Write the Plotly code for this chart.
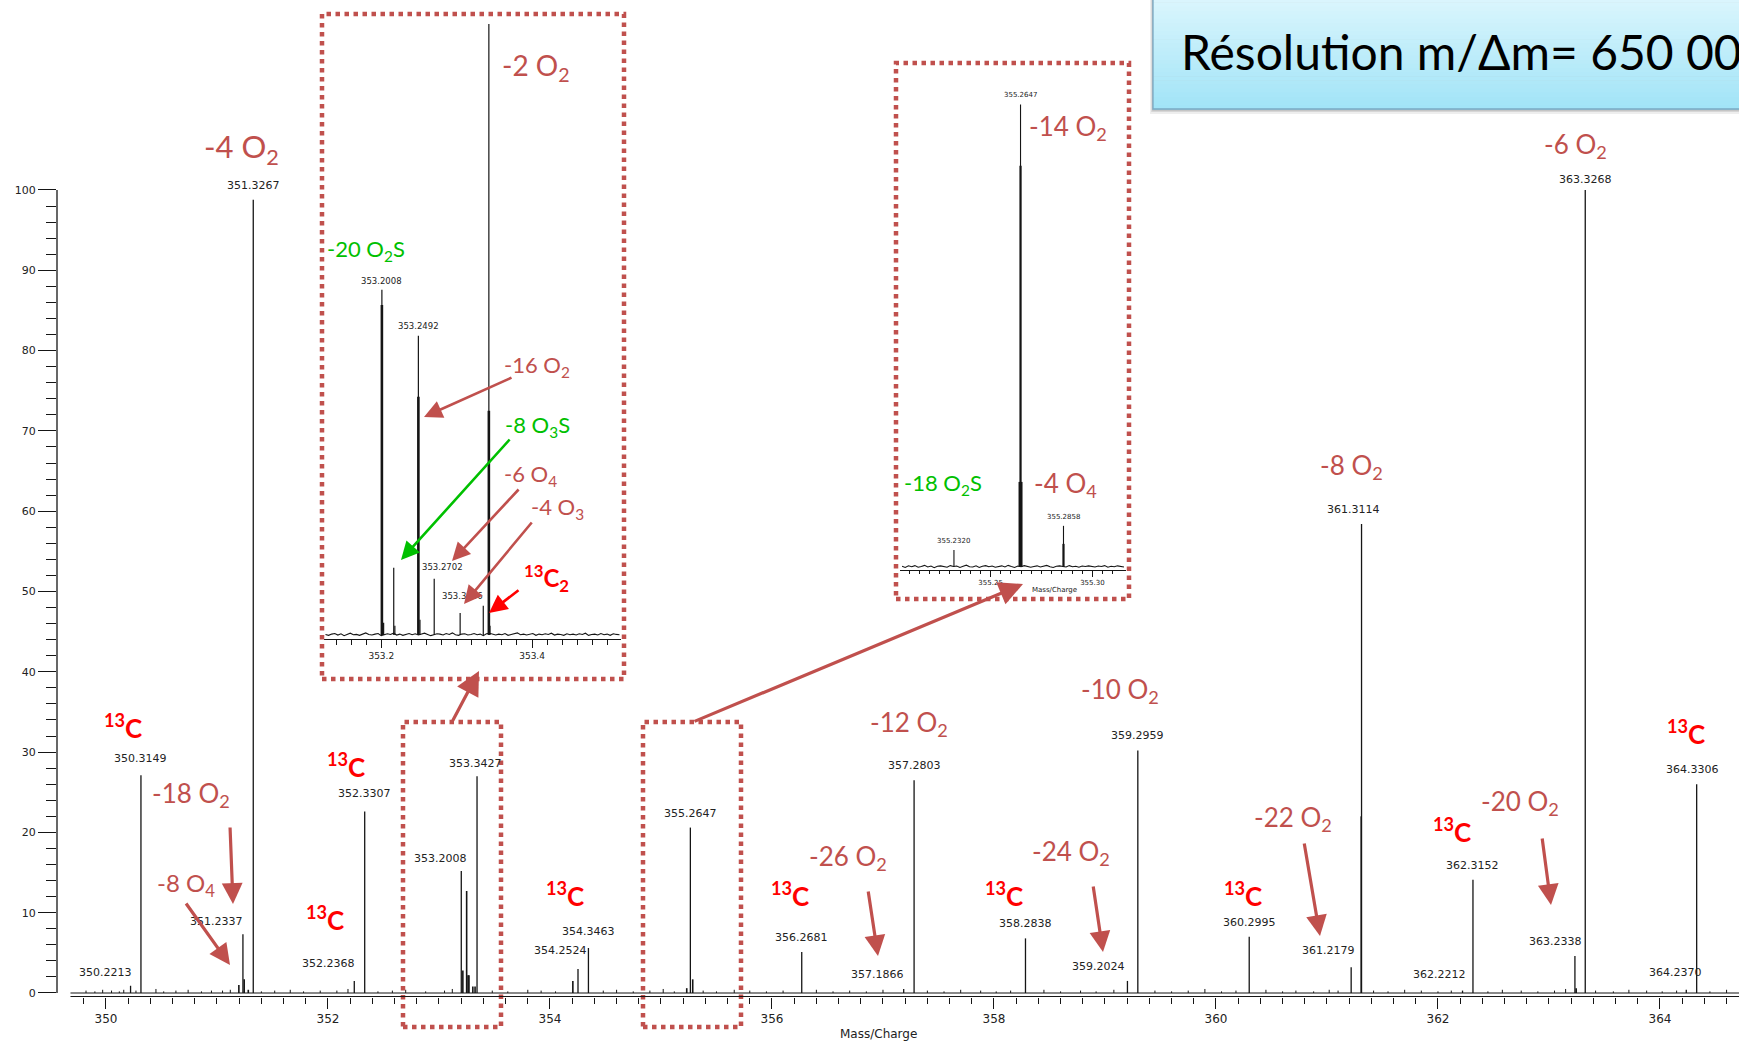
import numpy as np
import plotly.graph_objects as go

# ---------------- data ----------------
# main spectrum, labelled centroids (m/z, relative abundance)
peak_mz = [350.2213, 350.3149, 351.2337, 351.3267, 352.2368, 352.3307, 353.2008, 353.3427,
           354.2524, 354.3463, 355.2647, 356.2681, 357.1866, 357.2803, 358.2838, 359.2024,
           359.2959, 360.2995, 361.2179, 361.3114, 362.2212, 362.3152, 363.2338, 363.3268,
           364.2370, 364.3306]
peak_int = [0.9, 27.1, 7.3, 98.8, 1.5, 22.6, 15.2, 27.0,
            3.0, 5.6, 20.6, 5.1, 0.5, 26.5, 6.8, 1.5,
            30.2, 7.0, 3.2, 58.4, 0.3, 14.1, 4.6, 100.0,
            0.4, 26.0]

# unlabelled centroids
minor_mz = [351.197, 351.245, 351.282, 353.215, 353.2492, 353.262, 353.270, 353.305,
            353.325, 354.206, 355.232, 355.2858, 361.3085, 363.245]
minor_int = [1.0, 1.7, 0.4, 2.8, 12.7, 2.2, 2.2, 0.8,
             0.8, 1.5, 0.6, 1.7, 22.0, 0.6]

# baseline noise centroids
noise_mz = [349.82, 349.90, 349.97, 350.05, 350.12, 350.16, 350.27, 350.45, 350.52, 350.63,
            350.74, 350.86, 350.95, 351.05, 351.12, 351.40, 351.52, 351.66, 351.78, 351.93,
            352.08, 352.18, 352.45, 352.58, 352.70, 352.88, 353.05, 353.12, 353.48, 353.62,
            353.80, 353.92, 354.05, 354.48, 354.60, 354.75, 354.90, 355.02, 355.12, 355.38,
            355.50, 355.66, 355.80, 355.95, 356.10, 356.40, 356.55, 356.70, 356.85, 357.00,
            357.40, 357.55, 357.70, 357.88, 358.02, 358.15, 358.45, 358.60, 358.78, 358.92,
            359.08, 359.45, 359.60, 359.75, 359.90, 360.05, 360.18, 360.45, 360.60, 360.72,
            360.88, 361.02, 361.10, 361.42, 361.55, 361.70, 361.85, 362.00, 362.12, 362.45,
            362.58, 362.75, 362.90, 363.05, 363.15, 363.42, 363.58, 363.72, 363.88, 364.02,
            364.15, 364.45, 364.60]
noise_int = [0.3, 0.2, 0.4, 0.3, 0.2, 0.4, 0.3, 0.5, 0.2, 0.3,
             0.4, 0.2, 0.3, 0.3, 0.4, 0.2, 0.3, 0.4, 0.2, 0.3,
             0.3, 0.5, 0.2, 0.3, 0.4, 0.2, 0.3, 0.5, 0.3, 0.2,
             0.4, 0.3, 0.2, 0.3, 0.4, 0.2, 0.3, 0.5, 0.2, 0.3,
             0.2, 0.4, 0.3, 0.2, 0.3, 0.4, 0.2, 0.3, 0.2, 0.4,
             0.3, 0.2, 0.4, 0.3, 0.2, 0.3, 0.4, 0.2, 0.3, 0.2,
             0.4, 0.3, 0.2, 0.3, 0.5, 0.2, 0.3, 0.4, 0.2, 0.3,
             0.2, 0.4, 0.3, 0.3, 0.2, 0.4, 0.3, 0.2, 0.3, 0.2,
             0.4, 0.3, 0.2, 0.3, 0.5, 0.3, 0.2, 0.4, 0.3, 0.2,
             0.3, 0.2, 0.4]

# zoom around m/z 353.2 - 353.5 (normalised to 353.3427)
ins1_mz = [353.2008, 353.2031, 353.2165, 353.2180, 353.2492, 353.2513, 353.2702,
           353.3046, 353.3353, 353.3427, 353.3442]
ins1_int = [56.5, 2.0, 11.0, 1.5, 49.0, 2.5, 9.2, 3.6, 4.8, 100.0, 1.5]
ins1_core_mz = [353.2008, 353.2492, 353.3427]
ins1_core_int = [54.0, 39.0, 36.7]
ins1_labels = [353.2008, 353.2492, 353.2702, 353.3046]
ins1_noise = [0.10, -0.05, 0.15, 0.25, 0.00, 0.20, -0.10, 0.15, 0.30, 0.05, 0.10, -0.05,
              0.20, 0.35, 0.10, 0.00, 0.15, 0.25, -0.10, 0.05, 0.20, 0.10, 0.30, 0.00,
              0.15, -0.05, 0.10, 0.25, 0.05, 0.20, 0.00, 0.15, 0.30, 0.10, -0.10, 0.05,
              0.20, 0.15, 0.00, 0.25, 0.10, 0.35, 0.05, -0.05, 0.15, 0.20, 0.00, 0.10,
              0.25, 0.05, 0.15, -0.10, 0.20, 0.30, 0.10, 0.00, 0.15, 0.05, 0.25, -0.05,
              0.10, 0.20, 0.35, 0.05, 0.15, 0.00, 0.10, 0.25, -0.05, 0.15, 0.05, 0.20,
              0.10, 0.30, 0.00, 0.15, 0.10, -0.05, 0.20, 0.05, 0.15, 0.00, 0.20, 0.10,
              0.30, -0.05, 0.10, 0.15, 0.00, 0.25, 0.05, 0.15, -0.05, 0.20, 0.10, 0.05]

# zoom around m/z 355.26 (normalised to 355.2647)
ins2_mz = [355.2320, 355.2647, 355.2858]
ins2_int = [3.7, 100.0, 8.9]
ins2_core_mz = [355.2647, 355.2858]
ins2_core_int = [86.8, 5.0]
ins2_base_mz = [355.2647]
ins2_base_int = [18.4]
ins2_noise = [0.15, -0.10, 0.25, 0.05, 0.30, -0.05, 0.10, 0.35, 0.00, 0.20, -0.15, 0.15,
              0.25, 0.05, -0.05, 0.30, 0.10, 0.20, -0.10, 0.15, 0.40, 0.05, 0.00, 0.25,
              -0.10, 0.15, 0.30, 0.05, 0.20, -0.05, 0.10, 0.25, 0.00, 0.35, 0.10, -0.10,
              0.20, 0.05, 0.30, 0.15, -0.05, 0.10, 0.25, 0.00, 0.20, 0.35, 0.05, -0.10,
              0.15, 0.25, 0.10, 0.00, 0.30, 0.05, 0.15, -0.05, 0.20, 0.10, 0.25, 0.05,
              0.00, 0.20, 0.10, 0.30, -0.05, 0.15, 0.05, 0.25, 0.10, 0.00]

# ---------------- geometry helpers ----------------
W, H = 1739, 1041
ML, MR, MT, MB = 57, 0, 20, 44
PW, PH = W - ML - MR, H - MT - MB

def P(x, y):
    """pixel position on the page -> paper coordinates"""
    return (x - ML) / PW, (H - MB - y) / PH

def sticks(mz, inten):
    xs, ys = [], []
    for m, v in zip(mz, inten):
        xs += [m, m, None]
        ys += [0, v, None]
    return xs, ys

ROSE = '#c0504d'
GREEN = '#00c000'
RED = '#ff0000'
INK = '#151515'
LABEL_FONT = 'Lato'
TICK_FONT = 'DejaVu Sans'

fig = go.Figure()

# ---------------- main spectrum ----------------
for mz, it, w in [(noise_mz, noise_int, 1.0), (minor_mz, minor_int, 1.6), (peak_mz, peak_int, 1.3)]:
    xs, ys = sticks(mz, it)
    fig.add_trace(go.Scatter(x=xs, y=ys, mode='lines', line=dict(color=INK, width=w),
                             hoverinfo='skip', showlegend=False, xaxis='x', yaxis='y'))

# ---------------- inset 1 ----------------
xs = list(np.linspace(353.126, 353.516, len(ins1_noise)))
fig.add_trace(go.Scatter(x=xs, y=ins1_noise, mode='lines', line=dict(color=INK, width=1.1),
                         hoverinfo='skip', showlegend=False, xaxis='x2', yaxis='y2'))
xs, ys = sticks(ins1_mz, ins1_int)
fig.add_trace(go.Scatter(x=xs, y=ys, mode='lines', line=dict(color=INK, width=1.2),
                         hoverinfo='skip', showlegend=False, xaxis='x2', yaxis='y2'))
xs, ys = sticks(ins1_core_mz, ins1_core_int)
fig.add_trace(go.Scatter(x=xs, y=ys, mode='lines', line=dict(color=INK, width=2.6),
                         hoverinfo='skip', showlegend=False, xaxis='x2', yaxis='y2'))

# ---------------- inset 2 ----------------
xs = list(np.linspace(355.2065, 355.3155, len(ins2_noise)))
fig.add_trace(go.Scatter(x=xs, y=ins2_noise, mode='lines', line=dict(color=INK, width=1.1),
                         hoverinfo='skip', showlegend=False, xaxis='x3', yaxis='y3'))
for mz, it, w in [(ins2_mz, ins2_int, 1.1), (ins2_core_mz, ins2_core_int, 2.2),
                  (ins2_base_mz, ins2_base_int, 4.0)]:
    xs, ys = sticks(mz, it)
    fig.add_trace(go.Scatter(x=xs, y=ys, mode='lines', line=dict(color=INK, width=w),
                             hoverinfo='skip', showlegend=False, xaxis='x3', yaxis='y3'))

annotations = []
shapes = []

# peak labels on the main spectrum: horizontal / vertical nudges in px
label_dx = {350.2213: -25, 351.2337: -26, 352.2368: -26, 353.2008: -21, 353.3427: -2,
            354.2524: -18, 357.1866: -26, 359.2024: -29, 361.2179: -23, 362.2212: -23,
            363.2338: -19, 364.2370: -11, 364.3306: -4, 361.3114: -8}
label_dy = {350.2213: 5, 350.3149: 8, 351.2337: 4, 352.2368: 9, 352.3307: 10, 353.2008: 4,
            353.3427: 4, 354.2524: 10, 354.3463: 8, 363.3268: 2, 364.2370: 9, 361.2179: 8,
            362.2212: 8}
for m, v in zip(peak_mz, peak_int):
    annotations.append(dict(x=m, y=v, xref='x', yref='y', text=f'{m:.4f}', showarrow=False,
                            xanchor='center', yanchor='bottom', xshift=label_dx.get(m, 0),
                            yshift=label_dy.get(m, 6),
                            font=dict(family=TICK_FONT, size=11, color='#222')))

# peak labels inside the insets
ins1_val = dict(zip(ins1_mz, ins1_int))
ins1_dx = {353.2008: 0, 353.2492: 0, 353.2702: 8, 353.3046: 2}
ins1_dy = {353.2008: 2, 353.2492: 3, 353.2702: 5, 353.3046: 10}
for m in ins1_labels:
    annotations.append(dict(x=m, y=ins1_val[m], xref='x2', yref='y2', text=f'{m:.4f}',
                            showarrow=False, xanchor='center', yanchor='bottom',
                            xshift=ins1_dx[m], yshift=ins1_dy[m],
                            font=dict(family=TICK_FONT, size=8.5, color='#222')))
ins2_dy = {355.2320: 3, 355.2647: 4, 355.2858: 3}
for m, v in zip(ins2_mz, ins2_int):
    annotations.append(dict(x=m, y=v, xref='x3', yref='y3', text=f'{m:.4f}', showarrow=False,
                            xanchor='center', yanchor='bottom', yshift=ins2_dy[m],
                            font=dict(family=TICK_FONT, size=7, color='#222')))


def note(text, x, y, size, color, bold=False, family=LABEL_FONT):
    px_, py_ = P(x, y)
    annotations.append(dict(x=px_, y=py_, xref='paper', yref='paper', text=text,
                            showarrow=False, xanchor='center', yanchor='middle',
                            font=dict(family=family, size=size, color=color,
                                      weight='bold' if bold else 'normal')))


def arrow(tail, head, color, width=3.2, size=1.3):
    hx, hy = P(*head)
    annotations.append(dict(x=hx, y=hy, xref='paper', yref='paper', text='',
                            ax=tail[0] - head[0], ay=tail[1] - head[1],
                            axref='pixel', ayref='pixel', showarrow=True, arrowhead=2,
                            arrowsize=size, arrowwidth=width, arrowcolor=color, standoff=0))


O2 = ' O<sub>2</sub>'
C13 = '<sup>13</sup>C'

# composition labels, main spectrum
note('-4' + O2, 241, 148, 31, ROSE)
note('-6' + O2, 1575, 145, 26, ROSE)
note('-8' + O2, 1351, 466, 26, ROSE)
note('-10' + O2, 1120, 690, 26, ROSE)
note('-12' + O2, 909, 723, 26, ROSE)
note('-18' + O2, 191, 794, 26, ROSE)
note('-8 O<sub>4</sub>', 186, 884, 24, ROSE)
note('-26' + O2, 848, 857, 26, ROSE)
note('-24' + O2, 1071, 852, 26, ROSE)
note('-22' + O2, 1293, 818, 26, ROSE)
note('-20' + O2, 1520, 802, 26, ROSE)
for cx, cy in [(123, 726), (346, 765), (325, 918), (565, 894), (790, 894),
               (1004, 894), (1243, 894), (1452, 830), (1686, 732)]:
    note(C13, cx, cy, 26, RED, bold=True)

arrow((230, 826), (233, 904), ROSE)
arrow((185, 902), (230, 965), ROSE)
arrow((868, 890), (878, 956), ROSE)
arrow((1093, 885), (1103, 952), ROSE)
arrow((1304, 842), (1320, 936), ROSE)
arrow((1542, 837), (1551, 905), ROSE)

# inset 1 notes
note('-2' + O2, 536, 67, 28, ROSE)
note('-20 O<sub>2</sub>S', 366, 250, 22, GREEN)
note('-16' + O2, 537, 366, 22, ROSE)
note('-8 O<sub>3</sub>S', 537, 426, 22, GREEN)
note('-6 O<sub>4</sub>', 530, 475, 22, ROSE)
note('-4 O<sub>3</sub>', 557, 508, 22, ROSE)
note(C13 + '<sub>2</sub>', 546, 578, 24, RED, bold=True)
arrow((513, 377), (424, 417), ROSE, 2.6, 1.4)
arrow((511, 438), (401, 560), GREEN, 2.6, 1.4)
arrow((520, 488), (452, 561), ROSE, 2.6, 1.4)
arrow((533, 521), (464, 604), ROSE, 2.6, 1.4)
arrow((520, 589), (489, 613), RED, 2.6, 1.4)

# inset 2 notes
note('-14' + O2, 1068, 128, 26, ROSE)
note('-18 O<sub>2</sub>S', 943, 484, 22, GREEN)
note('-4 O<sub>4</sub>', 1065, 484, 26, ROSE)
note('Mass/Charge', 1054, 590, 7, '#222', family=TICK_FONT)

# axis title
note('Mass/Charge', 878, 1034, 12, '#222', family=TICK_FONT)

# links from the zoomed windows to their insets
arrow((452, 722), (479, 671), ROSE, 3.2, 1.5)
arrow((693, 722), (1023, 584), ROSE, 3.2, 1.5)


def dotted_box(x0, y0, x1, y1):
    a, b = P(x0, y1)
    c, d = P(x1, y0)
    shapes.append(dict(type='rect', xref='paper', yref='paper', x0=a, y0=b, x1=c, y1=d,
                       line=dict(color=ROSE, width=4.5, dash='4.5px,4.5px'),
                       fillcolor='rgba(0,0,0,0)', layer='above'))


dotted_box(322, 14, 624, 679)
dotted_box(403, 722, 501, 1027)
dotted_box(643, 722, 741, 1027)
dotted_box(896, 63, 1129, 599)

# main x-axis double rule and y-axis rule
for yv in (0.0, -0.45):
    shapes.append(dict(type='line', xref='x', yref='y', x0=349.68, x1=364.75, y0=yv, y1=yv,
                       line=dict(color=INK, width=1.2), layer='above'))
shapes.append(dict(type='line', xref='paper', yref='y', x0=0, x1=0, y0=0, y1=100,
                   line=dict(color=INK, width=1.3), layer='above'))

# resolution call-out box (soft shadow, vertical gradient, border)
bx0, by0, bx1, by1 = 1153, -6, 1765, 109
for off, alpha in [(5, 0.08), (3, 0.12), (1.5, 0.18)]:
    a, b = P(bx0 - off * 0.6, by1 + off)
    c, d = P(bx1, by0)
    shapes.append(dict(type='rect', xref='paper', yref='paper', x0=a, y0=b, x1=c, y1=d,
                       line=dict(width=0), fillcolor=f'rgba(40,40,40,{alpha})', layer='above'))
top_rgb = np.array([220, 246, 253])
bot_rgb = np.array([162, 228, 247])
n_strips = 28
for i in range(n_strips):
    t = i / (n_strips - 1)
    col = (top_rgb + (bot_rgb - top_rgb) * t).round().astype(int)
    ya = by0 + (by1 - by0) * i / n_strips
    yb = by0 + (by1 - by0) * (i + 1) / n_strips + 0.6
    a, b = P(bx0, yb)
    c, d = P(bx1, ya)
    shapes.append(dict(type='rect', xref='paper', yref='paper', x0=a, y0=b, x1=c, y1=d,
                       line=dict(width=0), fillcolor=f'rgb({col[0]},{col[1]},{col[2]})',
                       layer='above'))
a, b = P(bx0, by1)
c, d = P(bx1, by0)
shapes.append(dict(type='rect', xref='paper', yref='paper', x0=a, y0=b, x1=c, y1=d,
                   line=dict(color='#7aa9c4', width=1.3), fillcolor='rgba(0,0,0,0)',
                   layer='above'))
# the call-out runs past the right edge of the page; the ZWNJ keeps "ti" unligated
tx, ty = P(1179, 52)
annotations.append(dict(x=tx, y=ty, xref='paper', yref='paper',
                        text='Résolu\u200ction m/Δm= 650 000', showarrow=False,
                        xanchor='left', yanchor='middle',
                        font=dict(family=LABEL_FONT, size=48, color='#000')))

# ---------------- axes ----------------
x1_major = list(range(350, 365))
x1_text = [str(v) if v % 2 == 0 else '' for v in x1_major]
x1_minor = [round(349.8 + 0.2 * k, 1) for k in range(75)]
y1_major = list(range(0, 101, 10))
y1_minor = list(range(0, 101, 2))

x2_major = [353.1, 353.2, 353.3, 353.4, 353.5]
x2_text = ['', '353.2', '', '353.4', '']
x2_minor = [round(353.14 + 0.02 * k, 2) for k in range(19)]

x3_major = [355.225, 355.25, 355.275, 355.30]
x3_text = ['', '355.25', '', '355.30']
x3_minor = [round(355.21 + 0.005 * k, 3) for k in range(21)]


def xinset(domain, rng, anchor, major, text, minor, tlen, mlen, fsize):
    d0, _ = P(domain[0], 0)
    d1, _ = P(domain[1], 0)
    return dict(domain=[d0, d1], range=rng, anchor=anchor, showline=True, linecolor=INK,
                linewidth=1, ticks='outside', tickmode='array', tickvals=major, ticktext=text,
                ticklen=tlen, tickwidth=1, tickcolor=INK, showgrid=False, zeroline=False,
                minor=dict(tickmode='array', tickvals=minor, ticklen=mlen, tickcolor=INK,
                           tickwidth=1, ticks='outside', showgrid=False),
                tickfont=dict(family=TICK_FONT, size=fsize, color='#222'))


_, y2b = P(0, 639)
_, y2t = P(0, 21)
_, y3b = P(0, 570)
_, y3t = P(0, 100)

fig.update_layout(
    width=W, height=H, margin=dict(l=ML, r=MR, t=MT, b=MB),
    paper_bgcolor='white', plot_bgcolor='white', showlegend=False,
    xaxis=dict(domain=[0, 1], range=[349.5586, 364.712], anchor='y', showline=False,
               ticks='outside', tickmode='array', tickvals=x1_major, ticktext=x1_text,
               ticklen=11, tickwidth=1, tickcolor=INK, showgrid=False, zeroline=False,
               minor=dict(tickmode='array', tickvals=x1_minor, ticklen=6, tickcolor=INK,
                          tickwidth=1, ticks='outside', showgrid=False),
               tickfont=dict(family=TICK_FONT, size=12, color='#222')),
    yaxis=dict(domain=[0, 1], range=[-0.5, 121.17], anchor='x', showline=False,
               ticks='outside', tickmode='array', tickvals=y1_major,
               ticktext=[str(v) for v in y1_major], ticklen=18, tickwidth=1, tickcolor=INK,
               showgrid=False, zeroline=False,
               minor=dict(tickmode='array', tickvals=y1_minor, ticklen=10, tickcolor=INK,
                          tickwidth=1, ticks='outside', showgrid=False),
               tickfont=dict(family=TICK_FONT, size=11, color='#222')),
    xaxis2=xinset((324, 621), [353.124, 353.518], 'y2', x2_major, x2_text, x2_minor, 8, 5, 9),
    yaxis2=dict(domain=[y2b, y2t], range=[-0.65, 100.5], anchor='x2', visible=False),
    xaxis3=xinset((900, 1126), [355.2055, 355.3165], 'y3', x3_major, x3_text, x3_minor, 6, 3, 7),
    yaxis3=dict(domain=[y3b, y3t], range=[-0.65, 101], anchor='x3', visible=False),
    annotations=annotations, shapes=shapes,
)

fig.write_html('out.html')
